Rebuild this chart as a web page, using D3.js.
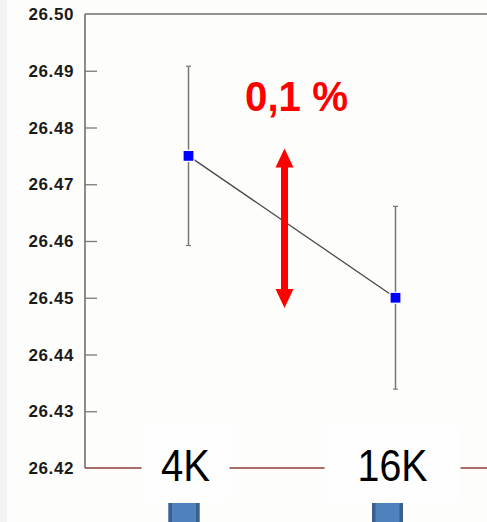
<!DOCTYPE html>
<html>
<head>
<meta charset="utf-8">
<script src="https://cdn.jsdelivr.net/npm/d3@7/dist/d3.min.js"></script>
<style>
  html, body { margin: 0; padding: 0; background: #fdfdfb; }
  svg { display: block; }
</style>
</head>
<body>
<svg id="chart" width="487" height="522"></svg>
<script>
// Lattice constant vs. k-point sampling
const categories = ["4K", "16K"];
const means = [26.475, 26.450];
const errors = [0.0158, 0.0161];
const yTicks = [26.42, 26.43, 26.44, 26.45, 26.46, 26.47, 26.48, 26.49, 26.50];
const yDomain = [26.42, 26.50];
const annotation = "0,1 %";
const arrowSpan = [26.4482, 26.4763];

(function () {
  const svg = d3.select("#chart");
  const W = 487, H = 522;

  // light strip on the far left edge
  svg.append("rect").attr("x", 0).attr("y", 0).attr("width", 7).attr("height", H).attr("fill", "#f3f3f3");

  const plotLeft = 85, plotRight = 499, plotTop = 14, plotBottom = 468;

  const x = d3.scalePoint().domain(categories).range([plotLeft, plotRight]).padding(0.5);
  const y = d3.scaleLinear().domain(yDomain).range([plotBottom, plotTop]);

  // frame: top border and left axis
  svg.append("line").attr("x1", plotLeft).attr("x2", plotRight)
    .attr("y1", y(yDomain[1])).attr("y2", y(yDomain[1]))
    .attr("stroke", "#6f6f6f").attr("stroke-width", 1.6);

  const yAxis = d3.axisRight(y).tickValues(yTicks.slice(1, -1)).tickSize(12).tickFormat("");
  const gy = svg.append("g").attr("transform", `translate(${plotLeft},0)`).call(yAxis);
  gy.select(".domain").remove();
  gy.selectAll(".tick line").attr("stroke", "#7a7a7a").attr("stroke-width", 1.3);

  svg.append("line").attr("x1", plotLeft).attr("x2", plotLeft)
    .attr("y1", y(yDomain[1])).attr("y2", y(yDomain[0]))
    .attr("stroke", "#6f6f6f").attr("stroke-width", 1.6);

  // tick labels
  svg.append("g").selectAll("text").data(yTicks).join("text")
    .attr("x", 74).attr("y", d => y(d)).attr("dy", "0.36em")
    .attr("text-anchor", "end")
    .attr("font-family", "Liberation Sans, Arial, sans-serif")
    .attr("font-weight", "bold").attr("font-size", 17)
    .attr("letter-spacing", 0.6)
    .attr("fill", "#1a1a1a")
    .text(d => d3.format(".2f")(d));

  // bottom baseline
  svg.append("line").attr("x1", plotLeft).attr("x2", plotRight)
    .attr("y1", y(yDomain[0])).attr("y2", y(yDomain[0]))
    .attr("stroke", "#8e3b3b").attr("stroke-width", 1.6);

  // category label plates with small blue tabs beneath
  const plates = svg.append("g").selectAll("g").data(categories).join("g")
    .attr("transform", d => `translate(${x(d) - 3},0)`);
  plates.append("rect")
    .attr("x", (d, i) => i === 0 ? -44 : -68).attr("width", (d, i) => i === 0 ? 88 : 136)
    .attr("y", 425).attr("height", 77).attr("fill", "#fefefe");
  plates.append("text")
    .attr("x", 0).attr("y", 481).attr("text-anchor", "middle")
    .attr("font-family", "Liberation Sans, Arial, sans-serif")
    .attr("font-size", 44).attr("fill", "#000")
    .attr("textLength", (d, i) => i === 0 ? 49 : 70).attr("lengthAdjust", "spacingAndGlyphs")
    .text(d => d);
  const tabs = plates.append("g")
    .attr("transform", (d, i) => `translate(${i === 0 ? -1.5 : -5},503)`);
  tabs.append("rect").attr("x", -15.5).attr("width", 31).attr("y", 0).attr("height", 19)
    .attr("fill", "#4f81bd");
  tabs.append("rect").attr("x", -15.5).attr("width", 3.5).attr("y", 0).attr("height", 19)
    .attr("fill", "#3a6090");
  tabs.append("rect").attr("x", 12).attr("width", 3.5).attr("y", 0).attr("height", 19)
    .attr("fill", "#3a6090");

  // connecting line
  const line = d3.line().x((d, i) => x(categories[i])).y(d => y(d));
  svg.append("path").datum(means).attr("d", line)
    .attr("fill", "none").attr("stroke", "#4a4a4a").attr("stroke-width", 1.3);

  // error bars
  const eb = svg.append("g").selectAll("g").data(means).join("g");
  eb.append("line")
    .attr("x1", (d, i) => x(categories[i])).attr("x2", (d, i) => x(categories[i]))
    .attr("y1", (d, i) => y(d + errors[i])).attr("y2", (d, i) => y(d - errors[i]))
    .attr("stroke", "#777").attr("stroke-width", 1.5);
  [1, -1].forEach(s => {
    eb.append("line")
      .attr("x1", (d, i) => x(categories[i]) - 2.5).attr("x2", (d, i) => x(categories[i]) + 2.5)
      .attr("y1", (d, i) => y(d + s * errors[i])).attr("y2", (d, i) => y(d + s * errors[i]))
      .attr("stroke", "#777").attr("stroke-width", 1.2);
  });

  // markers
  svg.append("g").selectAll("rect").data(means).join("rect")
    .attr("x", (d, i) => x(categories[i]) - 5.5).attr("y", d => y(d) - 5.5)
    .attr("width", 11).attr("height", 11)
    .attr("fill", "#0000ff").attr("stroke", "#ffffff").attr("stroke-width", 1.2);

  // red double-headed arrow
  const ax = 284.5;
  const yTop = y(arrowSpan[1]), yBot = y(arrowSpan[0]);
  const head = 19, hw = 9, sw = 3.5;
  svg.append("rect").attr("x", ax - sw).attr("width", sw * 2)
    .attr("y", yTop + head - 1).attr("height", yBot - yTop - 2 * head + 2).attr("fill", "#ff0000");
  svg.append("path").attr("d", `M${ax},${yTop} L${ax + hw},${yTop + head} L${ax - hw},${yTop + head} Z`).attr("fill", "#ff0000");
  svg.append("path").attr("d", `M${ax},${yBot} L${ax + hw},${yBot - head} L${ax - hw},${yBot - head} Z`).attr("fill", "#ff0000");

  svg.append("text")
    .attr("x", 245).attr("y", 111)
    .attr("font-family", "Liberation Sans, Arial, sans-serif")
    .attr("font-weight", "bold").attr("font-size", 42).attr("fill", "#ff0000")
    .attr("textLength", 103).attr("lengthAdjust", "spacingAndGlyphs")
    .text(annotation);
})();
</script>
</body>
</html>
